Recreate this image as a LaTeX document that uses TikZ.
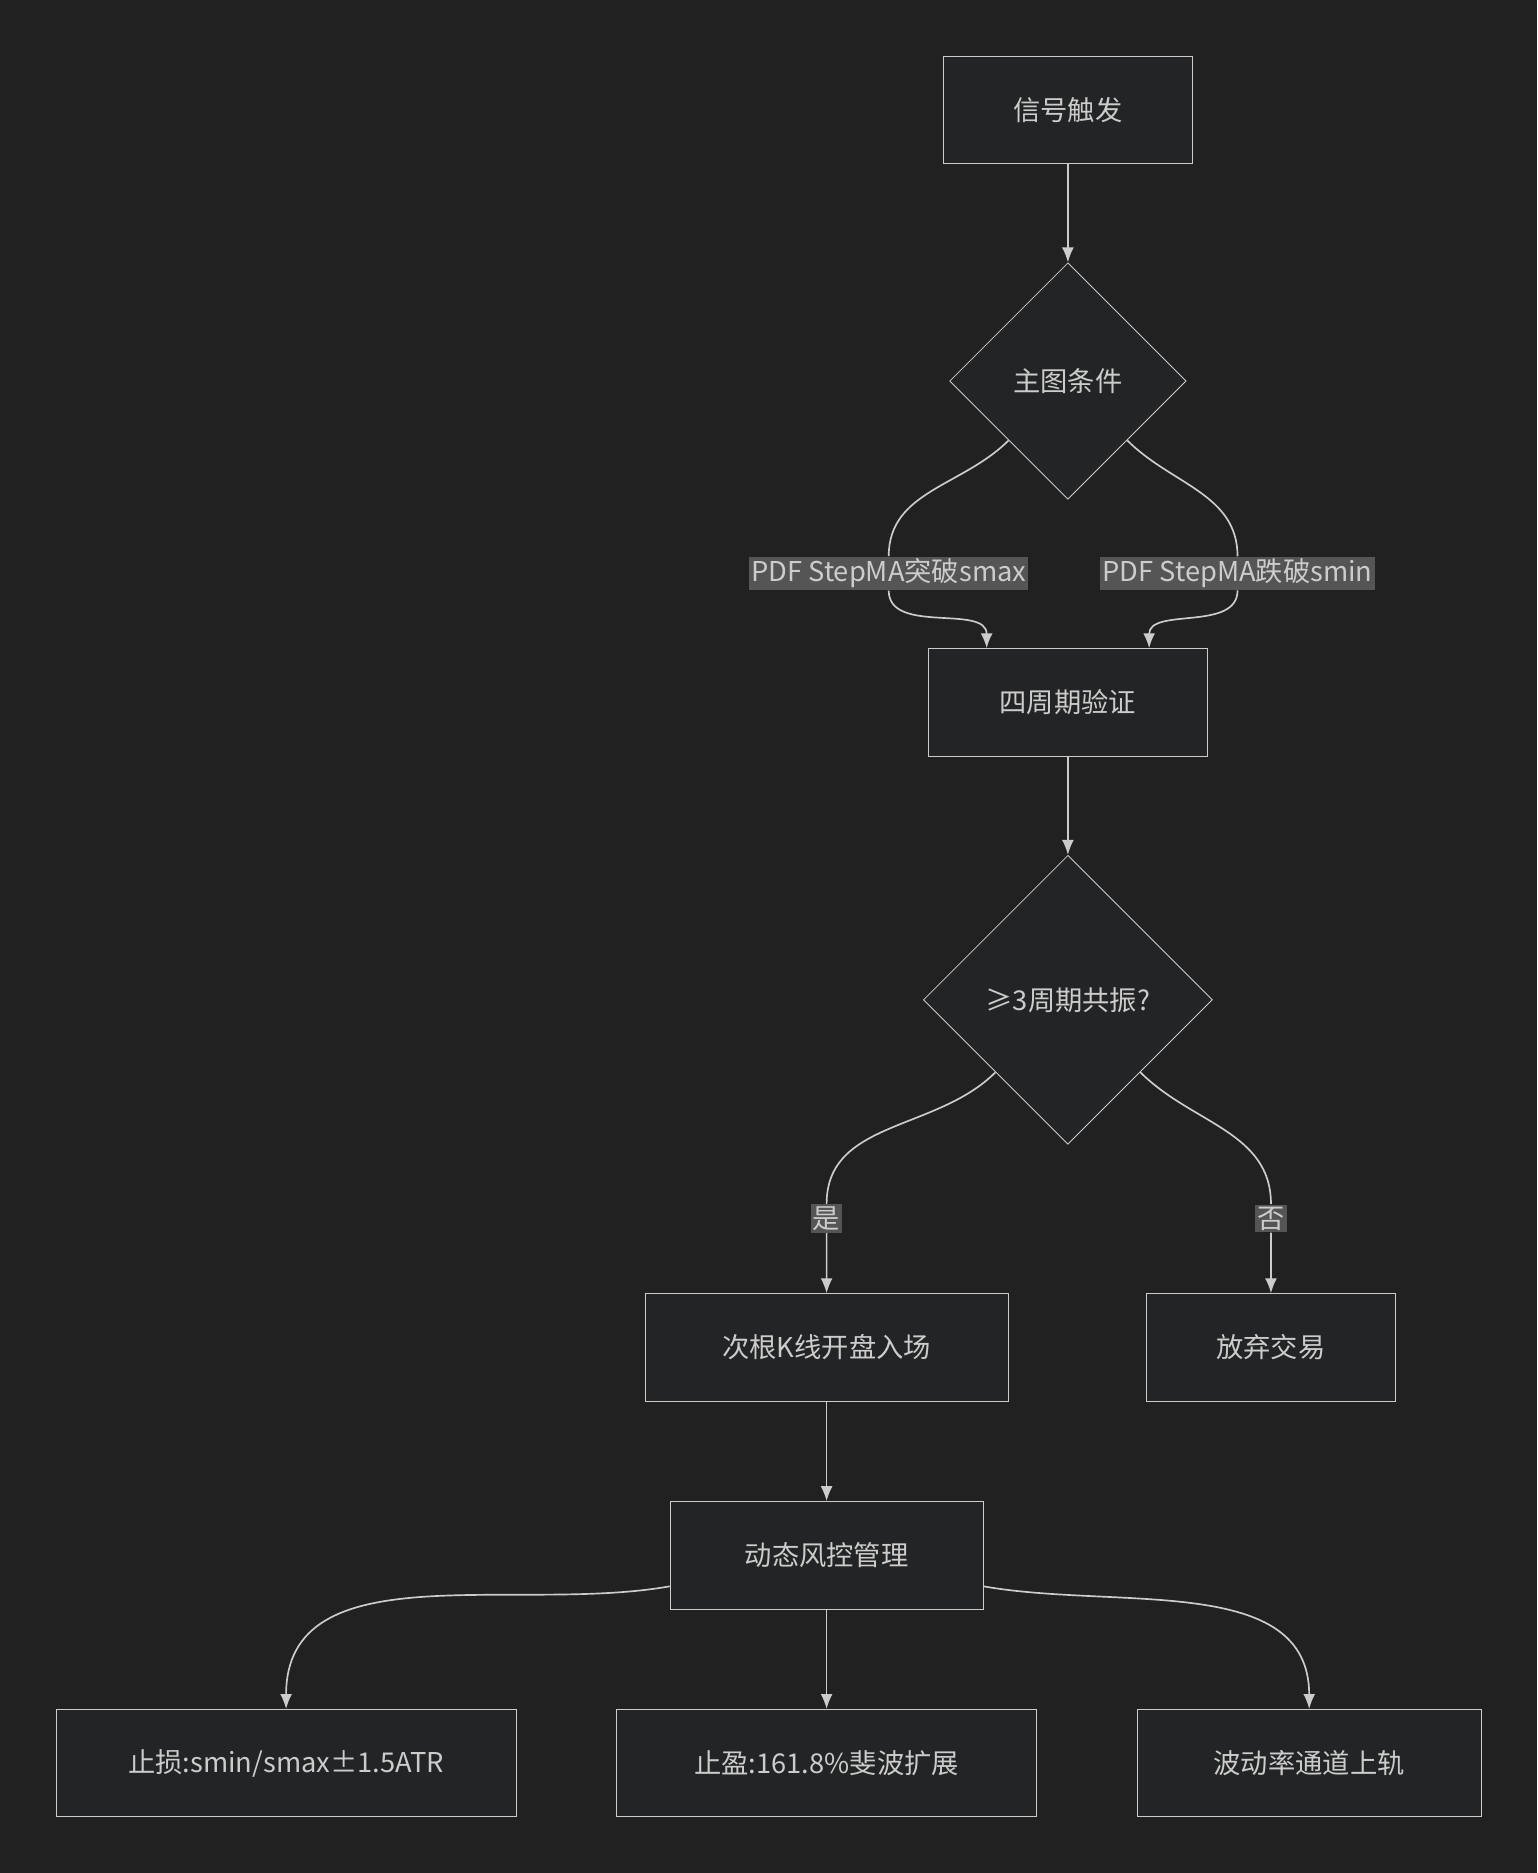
\documentclass[tikz,border=0pt]{standalone}
\usepackage{fontspec}
\setmainfont{Noto Sans CJK SC}
\usepackage{xcolor}
\usepackage{tikz}
\usetikzlibrary{arrows.meta,positioning,shapes.geometric,calc}
\definecolor{canvas}{HTML}{212121}
\definecolor{boxfill}{HTML}{232425}
\definecolor{stroke}{HTML}{CCCCCC}
\definecolor{lblfill}{HTML}{555555}
\pgfdeclarelayer{bg}
\pgfdeclarelayer{edges}
\pgfsetlayers{bg,edges,main}

\begin{document}
\begin{tikzpicture}[
  x=0.02cm, y=-0.02cm,
  proc/.style={draw=stroke, fill=boxfill, minimum height=1.8cm, inner sep=0pt, align=center, text=stroke, font=\fontsize{13}{15}\selectfont},
  cond/.style={diamond, draw=stroke, fill=boxfill, aspect=1, inner sep=0pt, text=stroke, font=\fontsize{13}{15}\selectfont},
  lbl/.style={fill=lblfill, inner sep=1pt, text=stroke, font=\fontsize{13}{15}\selectfont},
  edge/.style={-{Latex[length=2.5mm,width=2mm]}, draw=stroke, thick}
]
\begin{pgfonlayer}{bg}
\fill[canvas] (0,0) rectangle (1287,1568);
\end{pgfonlayer}
\useasboundingbox (0,0) rectangle (1287,1568);

\node[proc, minimum width=4.16cm] (trigger) at (894,92) {信号触发};
\node[cond, minimum width=3.96cm, minimum height=3.96cm] (maincond) at (894,319) {主图条件};
\node[proc, minimum width=4.68cm] (verify) at (894,588) {四周期验证};
\node[cond, minimum width=4.84cm, minimum height=4.84cm] (resonance) at (894,837) {≥3周期共振?};
\node[proc, minimum width=6.08cm] (entry) at (692,1128) {次根K线开盘入场};
\node[proc, minimum width=4.16cm] (abandon) at (1064,1128) {放弃交易};
\node[proc, minimum width=5.24cm] (risk) at (692,1302) {动态风控管理};
\node[proc, minimum width=7.70cm] (stoploss) at (239.5,1476) {止损:smin/smax±1.5ATR};
\node[proc, minimum width=7.04cm] (takeprofit) at (692,1476) {止盈:161.8\%斐波扩展};
\node[proc, minimum width=5.76cm] (channel) at (1096,1476) {波动率通道上轨};

\node[lbl] (breakup) at (744,480) {PDF StepMA突破smax};
\node[lbl] (breakdown) at (1036,480) {PDF StepMA跌破smin};
\node[lbl] (yes) at (692,1020) {是};
\node[lbl] (no) at (1064,1020) {否};

\begin{pgfonlayer}{edges}
\draw[edge] (trigger) -- (maincond);
\draw[edge] (maincond.south west) to[out=-135,in=90] (breakup.north) (breakup.south) to[out=-90,in=90] ($(verify.north)+(-68,0)$);
\draw[edge] (maincond.south east) to[out=-45,in=90] (breakdown.north) (breakdown.south) to[out=-90,in=90] ($(verify.north)+(68,0)$);
\draw[edge] (verify) -- (resonance);
\draw[edge] (resonance.south west) to[out=-135,in=90] (yes.north) (yes.south) to[out=-90,in=90] (entry.north);
\draw[edge] (resonance.south east) to[out=-45,in=90] (no.north) (no.south) to[out=-90,in=90] (abandon.north);
\draw[edge] (entry) -- (risk);
\draw[edge] ($(risk.west)+(0,26)$) to[out=190,in=90] (stoploss.north);
\draw[edge] (risk) -- (takeprofit);
\draw[edge] ($(risk.east)+(0,26)$) to[out=-10,in=90] (channel.north);
\end{pgfonlayer}
\end{tikzpicture}
\end{document}
